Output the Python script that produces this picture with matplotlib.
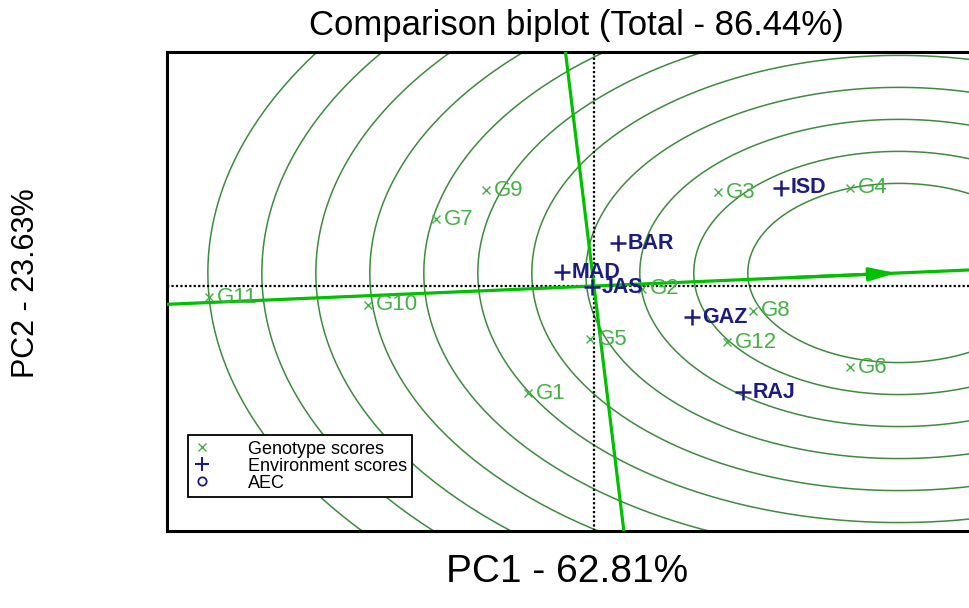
import numpy as np
import matplotlib
matplotlib.use("Agg")
import matplotlib.pyplot as plt
from matplotlib.lines import Line2D

plt.rcParams['font.family'] = ['Liberation Sans', 'DejaVu Sans']

# genotype scores (PC1, PC2)
gen_names = ['G1', 'G2', 'G3', 'G4', 'G5', 'G6', 'G7', 'G8', 'G9', 'G10', 'G11', 'G12']
gen_pc1 = [-0.306, 0.222, 0.574, 1.185, -0.019, 1.185, -0.731, 0.736, -0.500, -1.046, -1.782, 0.616]
gen_pc2 = [-0.836, -0.023, 0.734, 0.766, -0.414, -0.633, 0.523, -0.195, 0.750, -0.148, -0.086, -0.438]

# environment scores
env_names = ['BAR', 'GAZ', 'ISD', 'JAS', 'MAD', 'RAJ']
env_pc1 = [0.111, 0.454, 0.866, -0.009, -0.148, 0.690]
env_pc2 = [0.336, -0.242, 0.766, -0.008, 0.109, -0.828]

# ideal genotype (centre of the circles, on the AEC axis)
ideal = (1.412, 0.102)
radii = [0.70, 0.95, 1.20, 1.45, 1.70, 1.95, 2.20, 2.45, 2.70, 2.95, 3.20]

gcol = '#45b045'
ecol = '#1c1c80'
lcol = '#00c000'
ccol = '#3d8b3d'

fig = plt.figure(figsize=(9.7, 6.08), dpi=100)
ax = fig.add_axes([0.1722, 0.1266, 0.8474, 0.7878])
ax.set_xlim(-1.977, 1.829)
ax.set_ylim(-1.914, 1.828)

# concentric circles around the ideal genotype
t = np.linspace(0, 2 * np.pi, 400)
for r in radii:
    ax.plot(ideal[0] + r * np.cos(t), ideal[1] + r * np.sin(t), color=ccol, lw=1.1, zorder=1)

# dotted axes through origin
ax.axhline(0, color='black', lw=1.6, ls=(0, (1, 1)), zorder=2)
ax.axvline(0, color='black', lw=1.6, ls=(0, (1, 1)), zorder=2)

# AEC abscissa and ordinate
ax.axline((0, 0), ideal, color=lcol, lw=2.3, zorder=3)
ax.axline((0, 0), (-ideal[1], ideal[0]), color=lcol, lw=2.3, zorder=3)
ax.annotate('', xy=ideal, xytext=(ideal[0] - 0.5, ideal[1] - 0.5 * ideal[1] / ideal[0]),
            arrowprops=dict(arrowstyle='-|>,head_length=1.6,head_width=0.4', color=lcol, lw=2.3),
            zorder=4)

# genotypes
ax.plot(gen_pc1, gen_pc2, 'x', color=gcol, ms=6, mew=1.0, ls='none', zorder=5)
for n, x, y in zip(gen_names, gen_pc1, gen_pc2):
    ax.annotate(n, (x, y), xytext=(5.5, 0), textcoords='offset points', va='center', ha='left',
                color=gcol, fontsize=16, zorder=5)

# environments
ax.plot(env_pc1, env_pc2, '+', color=ecol, ms=11, mew=1.8, ls='none', zorder=6)
for n, x, y in zip(env_names, env_pc1, env_pc2):
    ax.annotate(n, (x, y), xytext=(7, 0), textcoords='offset points', va='center', ha='left',
                color=ecol, fontsize=15.5, fontweight='bold', zorder=6)

ax.set_xticks([])
ax.set_yticks([])
for s in ax.spines.values():
    s.set_linewidth(2.2)

handles = [Line2D([], [], marker='x', color=gcol, ls='none', ms=6, mew=1.0),
           Line2D([], [], marker='+', color=ecol, ls='none', ms=10, mew=1.5),
           Line2D([], [], marker='o', color=ecol, mfc='none', ls='none', ms=6, mew=1.3)]
leg = ax.legend(handles, ['Genotype scores', 'Environment scores', 'AEC'],
                loc='lower left', bbox_to_anchor=(0.0255, 0.071), borderaxespad=0,
                fancybox=False, edgecolor='black', framealpha=1, fontsize=13,
                handlelength=1.0, handletextpad=2.0, borderpad=0.3, labelspacing=0.0)
leg.get_frame().set_linewidth(1.3)
leg.set_zorder(10)

fig.text(576 / 970, 1 - 25 / 608, 'Comparison biplot (Total - 86.44%)', ha='center', va='center',
         fontsize=25)
fig.text(567 / 970, 1 - 572 / 608, 'PC1 - 62.81%', ha='center', va='center', fontsize=28)
fig.text(26 / 970, 1 - 283 / 608, 'PC2 - 23.63%', ha='center', va='center', rotation=90,
         fontsize=22)

fig.savefig('out.png', dpi=100)
